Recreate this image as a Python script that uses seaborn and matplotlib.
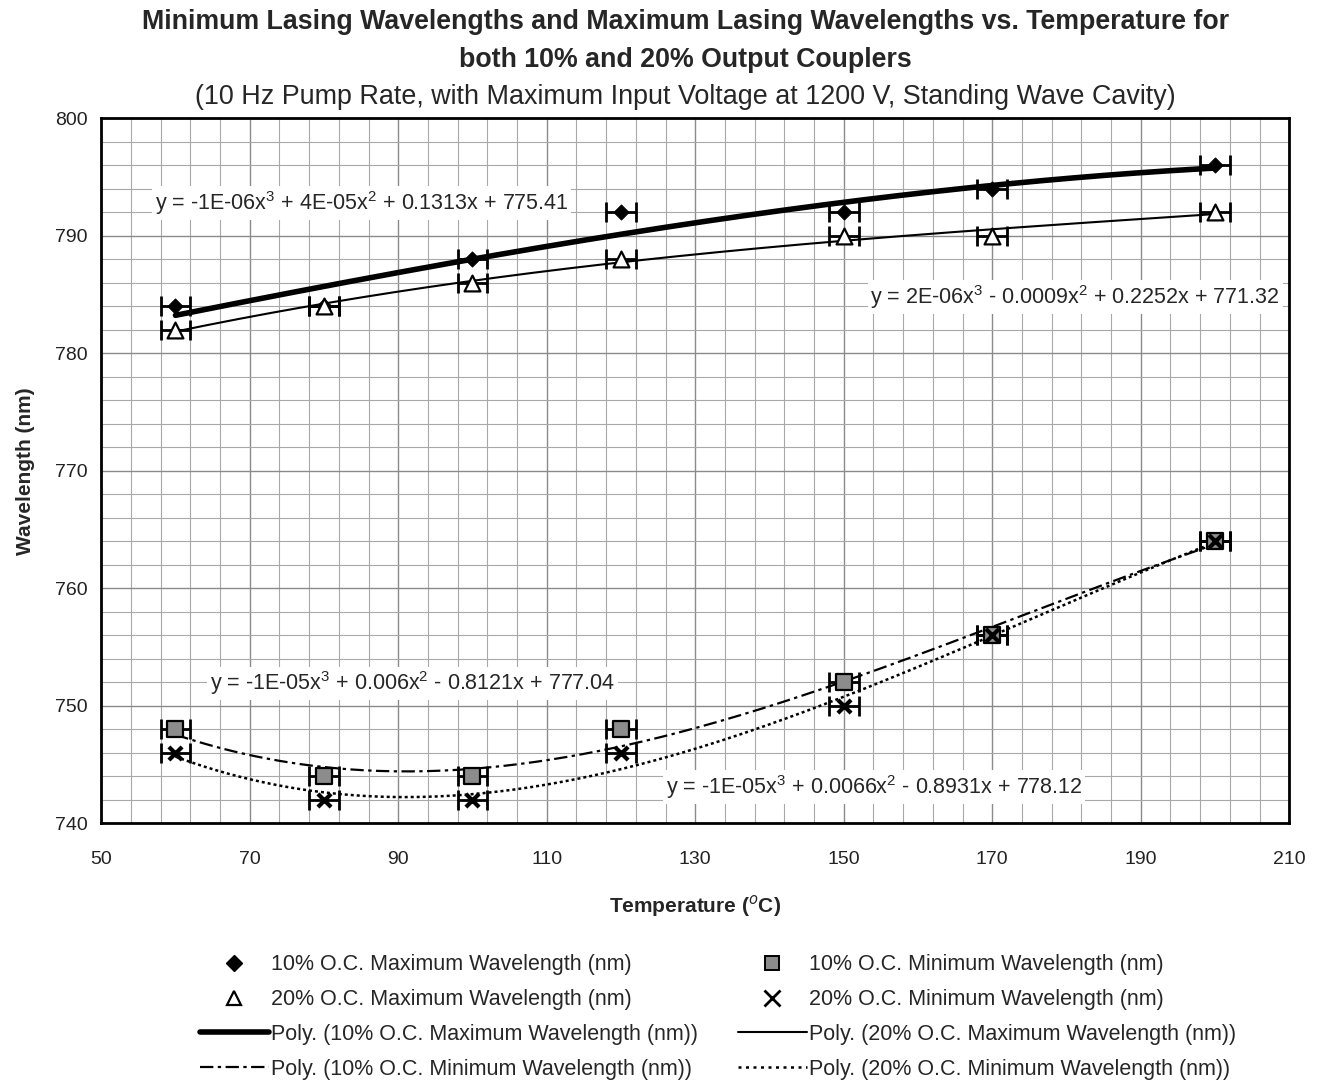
import numpy as np
import pandas as pd
import matplotlib
matplotlib.use("Agg")
import matplotlib.pyplot as plt
from matplotlib.lines import Line2D
from matplotlib.ticker import MultipleLocator
import seaborn as sns

# ---- data ----
# (the 10% max point at 80 sits hidden under the 20% triangle; it is implied by the printed fit)
t_max10 = [60, 80, 100, 120, 150, 170, 200]
w_max10 = [784, 784, 788, 792, 792, 794, 796]

t_max20 = [60, 80, 100, 120, 150, 170, 200]
w_max20 = [782, 784, 786, 788, 790, 790, 792]

t_min10 = [60, 80, 100, 120, 150, 170, 200]
w_min10 = [748, 744, 744, 748, 752, 756, 764]

t_min20 = [60, 80, 100, 120, 150, 170, 200]
w_min20 = [746, 742, 742, 746, 750, 756, 764]

x_err = 2.0

eq_max10 = "y = -1E-06x$^3$ + 4E-05x$^2$ + 0.1313x + 775.41"
eq_max20 = "y = 2E-06x$^3$ - 0.0009x$^2$ + 0.2252x + 771.32"
eq_min10 = "y = -1E-05x$^3$ + 0.006x$^2$ - 0.8121x + 777.04"
eq_min20 = "y = -1E-05x$^3$ + 0.0066x$^2$ - 0.8931x + 778.12"

lab_max10 = "10% O.C. Maximum Wavelength (nm)"
lab_max20 = "20% O.C. Maximum Wavelength (nm)"
lab_min10 = "10% O.C. Minimum Wavelength (nm)"
lab_min20 = "20% O.C. Minimum Wavelength (nm)"

sns.set_theme(style="white")
plt.rcParams['font.family'] = ['Liberation Sans', 'DejaVu Sans']
plt.rcParams['mathtext.fontset'] = 'custom'
plt.rcParams['mathtext.rm'] = 'Liberation Sans'

fig = plt.figure(figsize=(13.23, 10.86), dpi=100)
ax = fig.add_axes([0.0765, 0.242, 0.898, 0.649])

# grid
ax.set_xlim(50, 210)
ax.set_ylim(740, 800)
ax.xaxis.set_major_locator(MultipleLocator(20, offset=10))
ax.xaxis.set_minor_locator(MultipleLocator(4, offset=2))
ax.yaxis.set_major_locator(MultipleLocator(10))
ax.yaxis.set_minor_locator(MultipleLocator(2))
ax.grid(which='major', color='#8a8a8a', linewidth=1.0)
ax.grid(which='minor', color='#a8a8a8', linewidth=0.8)
ax.set_axisbelow(True)
ax.tick_params(which='both', length=0, labelsize=14, colors='#222222')
ax.tick_params(axis='x', pad=20)
ax.tick_params(axis='y', pad=10)
for s in ax.spines.values():
    s.set_color('black')
    s.set_linewidth(2)

# trendlines (cubic fits of the data)
def fit_df(t, w):
    c = np.polyfit(t, w, 3)
    xs = np.linspace(min(t), max(t), 200)
    return pd.DataFrame({"T": xs, "W": np.polyval(c, xs)})

dashdot = (0, (6, 2, 1.5, 2))
dotted = (0, (1.2, 1.2))
sns.lineplot(data=fit_df(t_max10, w_max10), x="T", y="W", ax=ax, color='black', linewidth=4, zorder=3)
sns.lineplot(data=fit_df(t_max20, w_max20), x="T", y="W", ax=ax, color='black', linewidth=1.5, zorder=3)
sns.lineplot(data=fit_df(t_min10, w_min10), x="T", y="W", ax=ax, color='black', linewidth=1.6,
             linestyle=dashdot, zorder=3)
sns.lineplot(data=fit_df(t_min20, w_min20), x="T", y="W", ax=ax, color='black', linewidth=1.8,
             linestyle=dotted, zorder=3)

# error bars
for t, w in [(t_max10, w_max10), (t_max20, w_max20), (t_min10, w_min10), (t_min20, w_min20)]:
    ax.errorbar(t, w, xerr=x_err, fmt='none', ecolor='black', elinewidth=2, capsize=7, capthick=2, zorder=4)

# markers
sns.scatterplot(x=t_max10, y=w_max10, ax=ax, marker='D', s=60, color='black', edgecolor='black', zorder=5)
sns.scatterplot(x=t_max20, y=w_max20, ax=ax, marker='^', s=130, color='white', edgecolor='black', linewidth=1.6, zorder=6)
sns.scatterplot(x=t_min10, y=w_min10, ax=ax, marker='s', s=120, color='#8c8c8c', edgecolor='black', linewidth=1.6, zorder=5)
sns.scatterplot(x=t_min20, y=w_min20, ax=ax, marker='x', s=90, color='black', linewidth=3, zorder=5)

# equations
box = dict(facecolor='white', edgecolor='none', pad=2)
eq_fs = 15.5
ax.text(57.2, 792.8, eq_max10, fontsize=eq_fs, ha='left', va='center', bbox=box, zorder=7)
ax.text(153.6, 784.8, eq_max20, fontsize=eq_fs, ha='left', va='center', bbox=box, zorder=7)
ax.text(64.6, 751.9, eq_min10, fontsize=eq_fs, ha='left', va='center', bbox=box, zorder=7)
ax.text(126.0, 743.1, eq_min20, fontsize=eq_fs, ha='left', va='center', bbox=box, zorder=7)

ax.set_xlabel("Temperature ($^{o}$C)", fontsize=15, fontweight='bold', labelpad=18)
ax.set_ylabel("Wavelength (nm)", fontsize=15, fontweight='bold', labelpad=14)

fig.text(0.518, 0.9797, "Minimum Lasing Wavelengths and Maximum Lasing Wavelengths vs. Temperature for",
         ha='center', va='center', fontsize=19.3, fontweight='bold')
fig.text(0.518, 0.9448, "both 10% and 20% Output Couplers",
         ha='center', va='center', fontsize=19.3, fontweight='bold')
fig.text(0.518, 0.9107, "(10 Hz Pump Rate, with Maximum Input Voltage at 1200 V, Standing Wave Cavity)",
         ha='center', va='center', fontsize=19.4)

# legend
h_max10 = Line2D([], [], linestyle='none', marker='D', markersize=8, color='black')
h_max20 = Line2D([], [], linestyle='none', marker='^', markersize=10, markerfacecolor='white',
                 markeredgecolor='black', markeredgewidth=1.6)
h_min10 = Line2D([], [], linestyle='none', marker='s', markersize=10, markerfacecolor='#8c8c8c',
                 markeredgecolor='black', markeredgewidth=1.4)
h_min20 = Line2D([], [], linestyle='none', marker='x', markersize=11, color='black', markeredgewidth=2)
p_max10 = Line2D([], [], color='black', linewidth=4)
p_max20 = Line2D([], [], color='black', linewidth=1.5)
p_min10 = Line2D([], [], color='black', linewidth=1.6, linestyle=dashdot)
p_min20 = Line2D([], [], color='black', linewidth=1.8, linestyle=(0, (1.2, 1.8)))

handles = [h_max10, h_max20, p_max10, p_min10, h_min10, h_min20, p_max20, p_min20]
labels = [lab_max10, lab_max20, "Poly. (" + lab_max10 + ")", "Poly. (" + lab_min10 + ")",
          lab_min10, lab_min20, "Poly. (" + lab_max20 + ")", "Poly. (" + lab_min20 + ")"]
fig.legend(handles, labels, loc='center', bbox_to_anchor=(0.5426, 0.0635), ncol=2, frameon=False,
           fontsize=15.5, handlelength=3.2, handletextpad=0.1, columnspacing=1.85, labelspacing=0.64)

fig.savefig("out.png", dpi=100, facecolor='white')
